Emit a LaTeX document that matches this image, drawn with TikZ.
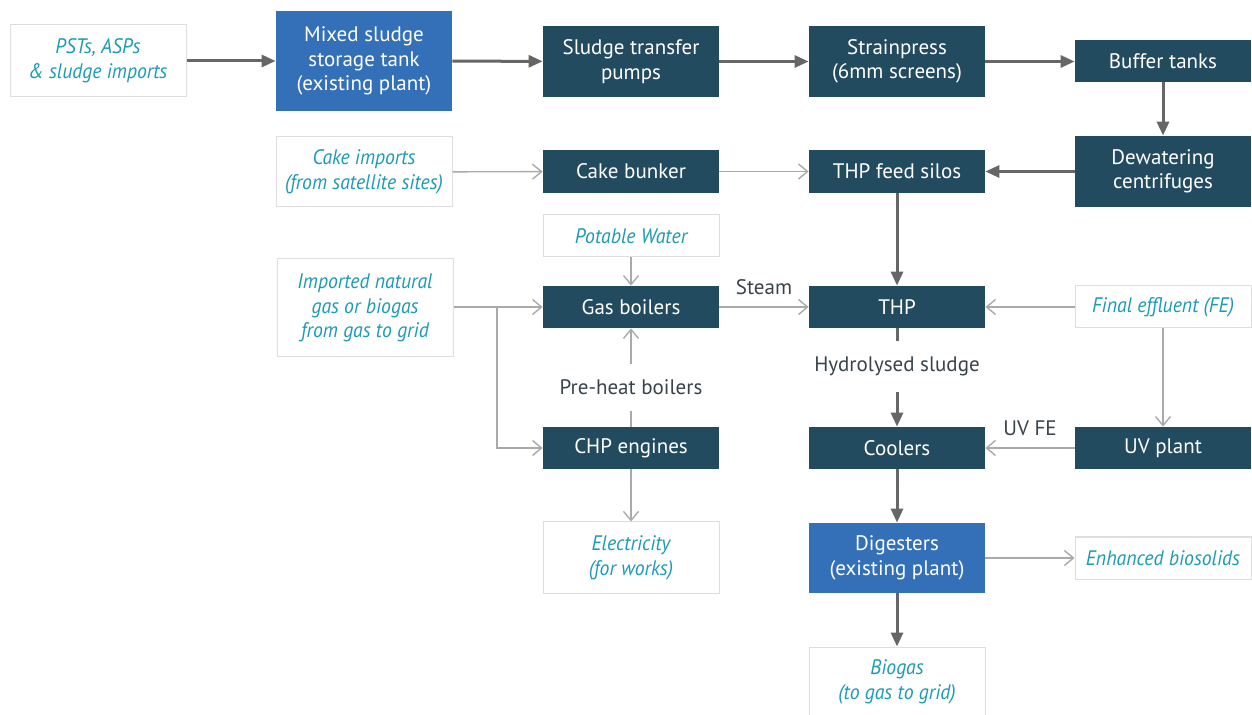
\documentclass[tikz,border=0pt]{standalone}
\usepackage{fontspec}
\setmainfont{PT Sans}
\newfontfamily\itfont[FakeStretch=0.94]{PT Sans}
\usetikzlibrary{arrows.meta}
\definecolor{dk}{HTML}{234B5F}
\definecolor{bl}{HTML}{3370B7}
\definecolor{cy}{HTML}{1E9AB4}
\definecolor{bd}{HTML}{DEDEDE}
\definecolor{ar}{HTML}{666666}
\definecolor{ln}{HTML}{AAAAAA}
\definecolor{lb}{HTML}{38444C}
\begin{document}
\begin{tikzpicture}[x=0.5pt,y=-0.5pt,
 box/.style={minimum width=88pt, inner sep=0pt, align=center, font=\fontsize{10.5}{12.2}\selectfont},
 dbox/.style={box, fill=dk, text=white},
 bbox/.style={box, fill=bl, text=white},
 wbox/.style={box, fill=white, draw=bd, line width=0.5pt, text=cy, font=\fontsize{10.5}{12.4}\selectfont\itfont\itshape},
 heavy/.style={draw=ar, line width=1.5pt, -{Triangle[length=7pt,width=6pt]}},
 light/.style={draw=ln, line width=0.7pt, -{Straight Barb[length=4.5pt,width=7.5pt]}},
 lbl/.style={text=lb, font=\fontsize{10.5}{12}\selectfont, fill=white, inner sep=1pt},
 flbl/.style={text=lb, font=\fontsize{10.5}{12}\selectfont, above=6pt, inner sep=0pt}
]
\useasboundingbox (0,0) rectangle (1252,715);
\clip (0,0) rectangle (1252,715);
\fill[white] (0,0) rectangle (1252,715);

% top row
\node[wbox, minimum height=36pt] (psts) at (98,61) {PSTs, ASPs\\\& sludge imports};
\node[bbox, minimum height=50pt] (mixed) at (364,61) {Mixed sludge\\storage tank\\(existing plant)};
\node[dbox, minimum height=35.5pt] (pumps) at (631,61.5) {Sludge transfer\\pumps};
\node[dbox, minimum height=35.5pt] (strain) at (897,61.5) {Strainpress\\(6mm screens)};
\node[dbox, minimum height=21pt] (buffer) at (1163,61) {Buffer tanks};

% second row
\node[wbox, minimum height=35pt] (cakeimp) at (364,172) {Cake imports\\(from satellite sites)};
\node[dbox, minimum height=21.5pt] (bunker) at (631,171.5) {Cake bunker};
\node[dbox, minimum height=21.5pt] (silos) at (897,171.5) {THP feed silos};
\node[dbox, minimum height=35.5pt] (dewater) at (1163,171.5) {Dewatering\\centrifuges};

% third row
\node[wbox, minimum height=21pt] (potable) at (631,236) {Potable Water};
\node[wbox, minimum height=49pt] (natgas) at (365,308) {Imported natural\\gas or biogas\\from gas to grid};
\node[dbox, minimum height=21pt] (boilers) at (631,307) {Gas boilers};
\node[dbox, minimum height=21pt] (thp) at (897,307) {THP};
\node[wbox, minimum height=21pt] (fe) at (1163,307) {Final effluent (FE)};

% fourth row
\node[dbox, minimum height=21pt] (chp) at (631,448) {CHP engines};
\node[dbox, minimum height=21pt] (coolers) at (897,448) {Coolers};
\node[dbox, minimum height=21pt] (uv) at (1163,448) {UV plant};

% fifth row
\node[wbox, minimum height=35.5pt] (elec) at (631,557.5) {Electricity\\(for works)};
\node[bbox, minimum height=35pt] (dig) at (897,558) {Digesters\\(existing plant)};
\node[wbox, minimum height=21pt] (bios) at (1163,558) {Enhanced biosolids};
\node[wbox, minimum height=35pt] (biogas) at (897,682) {Biogas\\(to gas to grid)};

% heavy connectors
\draw[heavy] (psts) -- (mixed);
\draw[heavy] (mixed) -- (pumps);
\draw[heavy] (pumps) -- (strain);
\draw[heavy] (strain.east) -- (buffer.west |- strain.east);
\draw[heavy] (buffer) -- (dewater);
\draw[heavy] (dewater.west |- silos.east) -- (silos.east);
\draw[heavy] (silos) -- (thp);
\draw[heavy] (thp) -- node[lbl, inner ysep=8pt, pos=0.39] (hyd) {Hydrolysed sludge} (coolers);
\draw[heavy] (coolers) -- (dig);
\draw[heavy] (dig) -- (biogas);

% light connectors
\draw[light] (cakeimp) -- (bunker);
\draw[light] (bunker) -- (silos);
\draw[light] (potable) -- (boilers);
\coordinate (split) at (497,307);
\draw[light] (natgas.east |- boilers.west) -- (boilers.west);
\draw[light] (split) |- (chp.west);
\draw[light] (chp) -- node[lbl, inner ysep=8pt, pos=0.4] (pre) {Pre-heat boilers} (boilers);
\draw[light] (boilers) -- node[flbl, pos=0.5] (steam) {Steam} (thp);
\draw[light] (fe) -- (thp);
\draw[light] (fe) -- (uv);
\draw[light] (uv) -- node[flbl, pos=0.5] (uvfe) {UV FE} (coolers);
\draw[light] (chp) -- (elec);
\draw[light] (dig.east |- bios.west) -- (bios.west);
\end{tikzpicture}
\end{document}
